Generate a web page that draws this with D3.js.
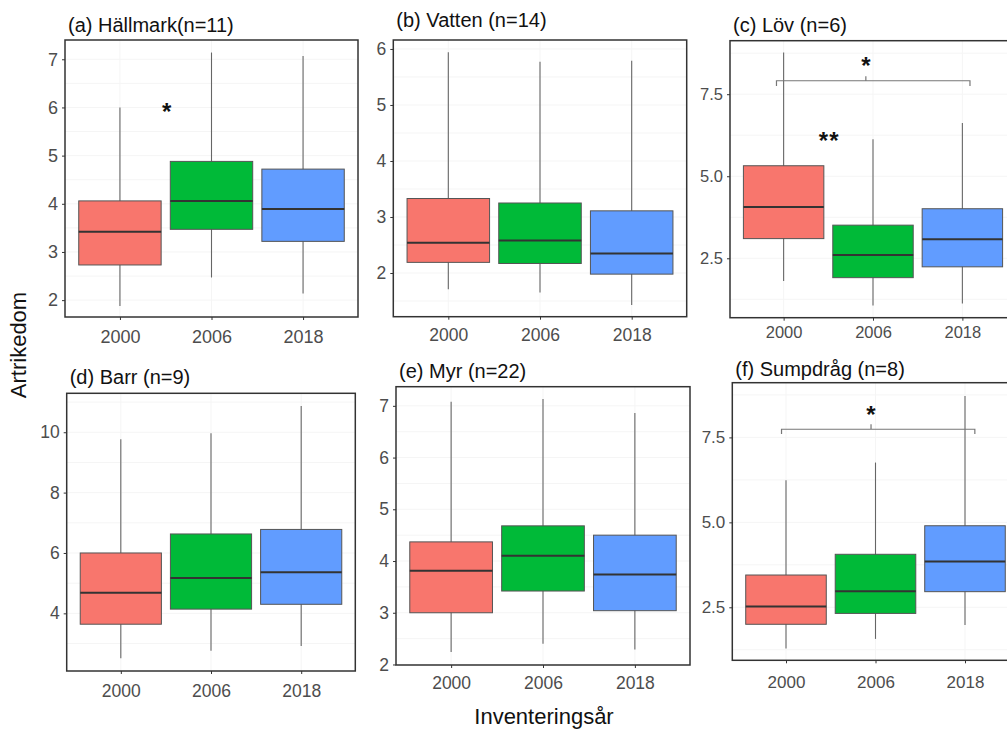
<!DOCTYPE html>
<html><head><meta charset="utf-8">
<script src="https://cdn.jsdelivr.net/npm/d3@7"></script>
<style>body{margin:0;background:#fff;} svg{display:block;}</style>
</head><body>
<svg id="chart" width="1007" height="729"></svg>
<script>
// ---------- DATA ----------
const years = ["2000", "2006", "2018"];
const panelTitles = ["(a) Hällmark(n=11)", "(b) Vatten (n=14)", "(c) Löv (n=6)",
                     "(d) Barr (n=9)", "(e) Myr (n=22)", "(f) Sumpdråg (n=8)"];
// each row: [lower whisker, Q1, median, Q3, upper whisker]
const hallmarkStats = [[1.88, 2.73, 3.42, 4.06, 6.00], [2.47, 3.47, 4.06, 4.88, 7.14], [2.14, 3.22, 3.89, 4.72, 7.07]];
const vattenStats   = [[1.71, 2.19, 2.54, 3.33, 5.94], [1.65, 2.17, 2.58, 3.25, 5.77], [1.43, 1.98, 2.35, 3.11, 5.79]];
const lovStats      = [[1.81, 3.10, 4.06, 5.32, 8.77], [1.06, 1.91, 2.60, 3.51, 6.13], [1.12, 2.24, 3.08, 4.01, 6.62]];
const barrStats     = [[2.51, 3.64, 4.68, 6.00, 9.77], [2.76, 4.14, 5.17, 6.63, 9.97], [2.92, 4.30, 5.36, 6.78, 10.87]];
const myrStats      = [[2.24, 3.00, 3.81, 4.37, 7.08], [2.40, 3.42, 4.10, 4.68, 7.13], [2.29, 3.04, 3.74, 4.50, 6.86]];
const sumpStats     = [[1.29, 2.00, 2.52, 3.45, 6.24], [1.57, 2.32, 2.97, 4.06, 6.76], [1.98, 2.96, 3.85, 4.90, 8.72]];
const yTicksA = [2, 3, 4, 5, 6, 7];
const yTicksB = [2, 3, 4, 5, 6];
const yTicksC = [2.5, 5.0, 7.5];
const yTicksD = [4, 6, 8, 10];
const yTicksE = [2, 3, 4, 5, 6, 7];
const yTicksF = [2.5, 5.0, 7.5];
const yDomains = [[1.65, 7.4], [1.22, 6.16], [0.69, 9.13], [2.09, 11.29], [1.99, 7.37], [0.94, 9.11]];
// significance marks: [panel index, label, x position (category index), value]
const starLabels = [[0, "*", 0.51, 5.99], [2, "**", 0.51, 6.21], [2, "*", 0.92, 8.49], [5, "*", 0.95, 8.30]];
// brackets: [panel index, from index, to index, value, end drop value, centre index, centre top value]
const brackets = [[2, -0.08, 2.085, 7.91, 7.75, 0.92, 8.05], [5, -0.05, 2.11, 7.74, 7.60, 0.95, 7.89]];
const xTitle = "Inventeringsår";
const yTitle = "Artrikedom";

// ---------- LAYOUT ----------
const allStats = [hallmarkStats, vattenStats, lovStats, barrStats, myrStats, sumpStats];
const allTicks = [yTicksA, yTicksB, yTicksC, yTicksD, yTicksE, yTicksF];
const frames = [
  {l: 65, t: 40, r: 358, b: 317, titleY: 31.7, labY: 26, fs: 18},
  {l: 393.3, t: 40, r: 686.7, b: 316.7, titleY: 26.7, labY: 24.5, fs: 17.5},
  {l: 730, t: 40.7, r: 1016, b: 317.7, titleY: 32.3, labY: 20.6, fs: 16.5},
  {l: 66.7, t: 393.3, r: 355.3, b: 671, titleY: 384.3, labY: 26, fs: 17.5},
  {l: 396, t: 386.7, r: 690, b: 665, titleY: 378.3, labY: 24, fs: 17.5},
  {l: 732.3, t: 382.7, r: 1018.7, b: 660.3, titleY: 375.7, labY: 28, fs: 17}
];
const fills = ["#F8766D", "#00BA38", "#619CFF"];
const font = "'Liberation Sans', Arial, sans-serif";

const svg = d3.select("#chart");

frames.forEach((f, i) => {
  const stats = allStats[i];
  const x = d3.scalePoint().domain(years).range([f.l, f.r]).padding(0.6);
  const step = x.step();
  const xi = v => x(years[0]) + v * step;
  const y = d3.scaleLinear().domain(yDomains[i]).range([f.b, f.t]);
  const g = svg.append("g");

  // faint grid
  const minor = [];
  const tk = allTicks[i];
  const dt = tk[1] - tk[0];
  for (let v = tk[0] - dt / 2; v <= yDomains[i][1]; v += dt / 2) if (v >= yDomains[i][0]) minor.push(v);
  g.selectAll(".gy").data(minor).enter().append("line")
    .attr("x1", f.l).attr("x2", f.r).attr("y1", d => y(d)).attr("y2", d => y(d))
    .attr("stroke", "#f5f5f5").attr("stroke-width", 1);
  g.selectAll(".gx").data(years).enter().append("line")
    .attr("x1", d => x(d)).attr("x2", d => x(d)).attr("y1", f.t).attr("y2", f.b)
    .attr("stroke", "#f5f5f5").attr("stroke-width", 1);

  const bw = step * 0.9;
  const boxes = g.selectAll(".box").data(stats).enter().append("g");
  boxes.append("line")
    .attr("x1", (d, j) => x(years[j])).attr("x2", (d, j) => x(years[j]))
    .attr("y1", d => y(d[0])).attr("y2", d => y(d[4]))
    .attr("stroke", "#666").attr("stroke-width", 1.1);
  boxes.append("rect")
    .attr("x", (d, j) => x(years[j]) - bw / 2).attr("width", bw)
    .attr("y", d => y(d[3])).attr("height", d => y(d[1]) - y(d[3]))
    .attr("fill", (d, j) => fills[j]).attr("stroke", "#555").attr("stroke-width", 1);
  boxes.append("line")
    .attr("x1", (d, j) => x(years[j]) - bw / 2).attr("x2", (d, j) => x(years[j]) + bw / 2)
    .attr("y1", d => y(d[2])).attr("y2", d => y(d[2]))
    .attr("stroke", "#333").attr("stroke-width", 2);

  // border
  g.append("rect").attr("x", f.l).attr("y", f.t).attr("width", f.r - f.l).attr("height", f.b - f.t)
    .attr("fill", "none").attr("stroke", "#333").attr("stroke-width", 1.5);

  // y axis
  const ya = d3.axisLeft(y).tickValues(tk).tickSize(3).tickPadding(4)
    .tickFormat(tk.some(v => v % 1) ? d3.format(".1f") : d3.format("d"));
  const yg = g.append("g").attr("transform", `translate(${f.l},0)`).call(ya);
  yg.select(".domain").remove();
  yg.selectAll("line").attr("stroke", "#333");
  yg.selectAll("text").attr("fill", "#4d4d4d").style("font-size", f.fs + "px").style("font-family", font);

  // x axis
  const xa = d3.axisBottom(x).tickSize(3).tickPadding(0);
  const xg = g.append("g").attr("transform", `translate(0,${f.b})`).call(xa);
  xg.select(".domain").remove();
  xg.selectAll("line").attr("stroke", "#333");
  xg.selectAll("text").attr("fill", "#4d4d4d").attr("dy", null).attr("y", f.labY)
    .style("font-size", f.fs + "px").style("font-family", font);

  // title
  g.append("text").attr("x", f.l + 3).attr("y", f.titleY).text(panelTitles[i])
    .attr("fill", "#111").style("font-size", "20px").style("font-family", font);

  // brackets
  brackets.filter(b => b[0] === i).forEach(b => {
    const path = d3.path();
    path.moveTo(xi(b[1]), y(b[4])); path.lineTo(xi(b[1]), y(b[3]));
    path.lineTo(xi(b[2]), y(b[3])); path.lineTo(xi(b[2]), y(b[4]));
    path.moveTo(xi(b[5]), y(b[3])); path.lineTo(xi(b[5]), y(b[6]));
    g.append("path").attr("d", path.toString()).attr("fill", "none").attr("stroke", "#777").attr("stroke-width", 1.2);
  });
  // stars
  starLabels.filter(s => s[0] === i).forEach(s => {
    g.append("text").attr("x", xi(s[2])).attr("y", y(s[3]) + 0.52 * 24)
      .attr("text-anchor", "middle").text(s[1]).attr("fill", "#111")
      .style("font-size", "24px").style("font-weight", "bold").style("font-family", font)
      .style("letter-spacing", s[1].length > 1 ? "1px" : null);
  });
});

svg.append("text").attr("transform", "translate(26,345) rotate(-90)").attr("text-anchor", "middle")
  .text(yTitle).attr("fill", "#111").style("font-size", "22px").style("font-family", font);
svg.append("text").attr("x", 544).attr("y", 724).attr("text-anchor", "middle")
  .text(xTitle).attr("fill", "#111").style("font-size", "22px").style("font-family", font);
</script>
</body></html>
